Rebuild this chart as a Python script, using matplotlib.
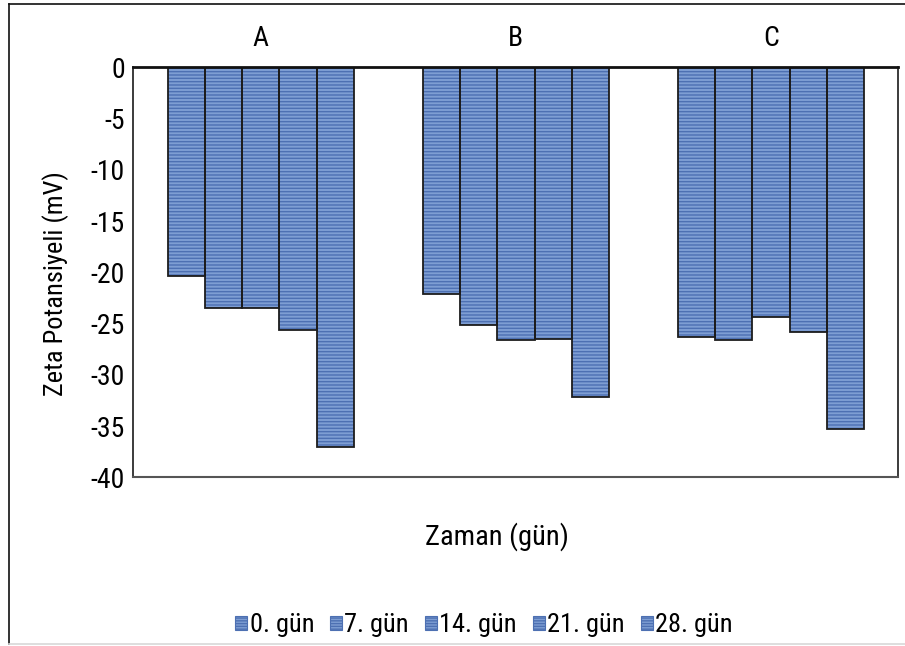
import matplotlib
matplotlib.use("Agg")
import matplotlib.pyplot as plt
import numpy as np
from matplotlib.lines import Line2D

plt.rcParams['font.family'] = ['Roboto Condensed', 'Liberation Sans', 'DejaVu Sans']
plt.rcParams['axes.unicode_minus'] = False
plt.rcParams['hatch.linewidth'] = 1.0

groups = ['A', 'B', 'C']
series = ['0. gün', '7. gün', '14. gün', '21. gün', '28. gün']
values = {
    '0. gün':  [-20.4, -22.1, -26.3],
    '7. gün':  [-23.5, -25.1, -26.6],
    '14. gün': [-23.5, -26.6, -24.4],
    '21. gün': [-25.6, -26.5, -25.8],
    '28. gün': [-37.0, -32.2, -35.3],
}
yticks = [0, -5, -10, -15, -20, -25, -30, -35, -40]

face = '#7e9ed3'
stripe = '#4d70b2'
edge = '#1c1c1c'
fs = 20

fig = plt.figure(figsize=(9.05, 6.46), dpi=100)
ax = fig.add_axes([0.1473, 0.2611, 0.8455, 0.6347])

x = np.arange(len(groups))
width = 0.1462
handles = []
for i, name in enumerate(series):
    pos = x + (i - 2) * width
    ax.bar(pos, values[name], width, color=face, edgecolor=stripe,
           hatch='-----', linewidth=0, zorder=2)
    ax.bar(pos, values[name], width, facecolor='none', edgecolor=edge,
           linewidth=1.3, zorder=3)
    h = plt.Rectangle((0, 0), 1, 1, facecolor=face, edgecolor=stripe,
                      hatch='------', linewidth=0.8)
    handles.append(h)

ax.set_xlim(-0.5, 2.5)
ax.set_ylim(-40, 0)
ax.set_yticks(yticks)
ax.set_yticklabels([str(v) for v in yticks])
ax.tick_params(axis='y', length=0, pad=6, labelsize=fs)
ax.xaxis.tick_top()
ax.set_xticks(x)
ax.set_xticklabels(groups)
ax.tick_params(axis='x', length=0, pad=11, labelsize=fs)

for side in ['left', 'right']:
    ax.spines[side].set_color('#1a1a1a')
    ax.spines[side].set_linewidth(1.2)
ax.spines['top'].set_color('#111111')
ax.spines['top'].set_linewidth(2.0)
ax.spines['top'].set_zorder(4)
ax.spines['bottom'].set_color('#555555')
ax.spines['bottom'].set_linewidth(1.5)

# axis titles
fig.text(56 / 905, 1 - 284 / 646, 'Zeta Potansiyeli (mV)', fontsize=19,
         rotation=90, ha='center', va='center')
fig.text(497 / 905, 1 - 537 / 646, 'Zaman (gün)', fontsize=20.5,
         ha='center', va='center')

fig.legend(handles, series, loc='center', ncol=5,
           bbox_to_anchor=(484 / 905, 1 - 625 / 646), frameon=False,
           fontsize=19, handlelength=0.45, handleheight=0.45,
           handletextpad=0.1, columnspacing=0.6, borderpad=0)

# chart frame
fig.add_artist(Line2D([9 / 905, 9 / 905], [1 - 4 / 646, 1 - 644 / 646],
                      transform=fig.transFigure, color='#111111', lw=1.2))
fig.add_artist(Line2D([9 / 905, 1], [1 - 4 / 646, 1 - 4 / 646],
                      transform=fig.transFigure, color='#111111', lw=1.2))
fig.add_artist(Line2D([9 / 905, 1], [1 - 644 / 646, 1 - 644 / 646],
                      transform=fig.transFigure, color='#d8d8d8', lw=1.2))

fig.savefig('out.png', dpi=100)
